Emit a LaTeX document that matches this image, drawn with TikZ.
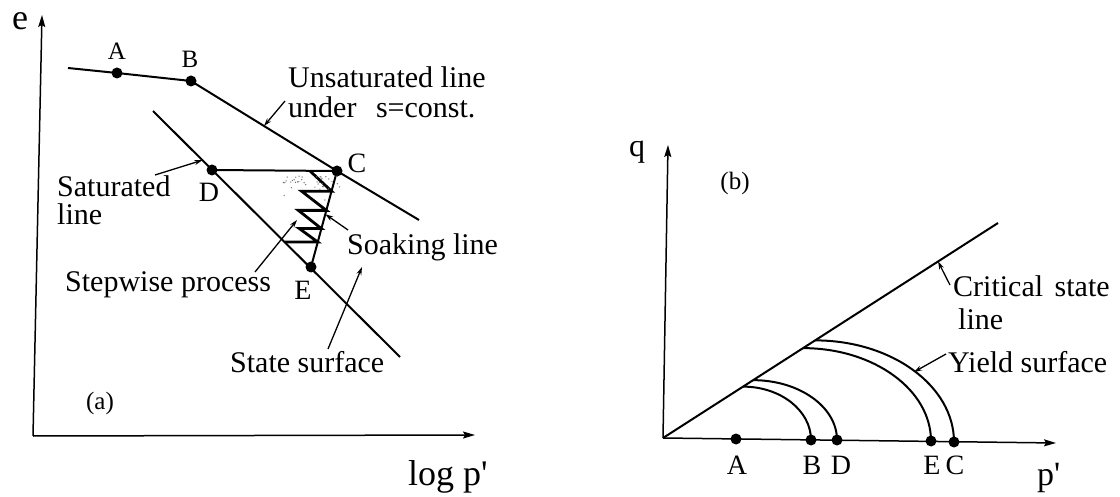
\documentclass[tikz,border=0pt]{standalone}
\usepackage{fontspec}
\setmainfont{Liberation Serif}
\usetikzlibrary{arrows.meta,calc}

\begin{document}
\begin{tikzpicture}[x=1pt, y=-1pt,
  axis/.style={line width=1.5pt, -{Stealth[length=12pt,width=7pt,inset=2pt]}},
  curve/.style={line width=2pt},
  zig/.style={line width=2.8pt, line join=miter},
  ptr/.style={line width=1.3pt, -{Stealth[length=8pt,width=5pt]}},
  dot/.style={circle, fill, inner sep=0pt, minimum size=11pt},
  ptlbl/.style={font=\fontsize{25}{28}\selectfont, inner sep=0pt},
  bigptlbl/.style={font=\fontsize{28}{31}\selectfont, inner sep=0pt},
  txt/.style={font=\fontsize{30}{33}\selectfont, anchor=base west, inner sep=0pt},
  axlbl/.style={font=\fontsize{36}{40}\selectfont, inner sep=0pt, anchor=base west},
  tag/.style={font=\fontsize{25}{28}\selectfont, inner sep=0pt}]
  \useasboundingbox (0,0) rectangle (1120,497);

  % (a) e -- log p'
  \coordinate (Oa) at (33,436);
  \draw[axis] (Oa) -- (42,15);
  \draw[axis] (Oa) -- (475,435);
  \node[axlbl] (elbl) at (12,30) {e};
  \node[axlbl] (plbl) at (408,485) {log p\textquotesingle};

  % Unsaturated line
  \coordinate (u0) at (68,68);
  \coordinate (u1) at (419,220);
  \node[dot] (A) at (117,73) {};
  \node[dot] (B) at (191,81) {};
  \node[dot] (C) at (337,171) {};
  \draw[curve] (u0) -- (A.center) -- (B.center) -- (C.center) -- (u1);

  % Saturated line
  \coordinate (s0) at (153,111);
  \coordinate (s1) at (400,357);
  \node[dot] (D) at (212,170) {};
  \node[dot] (E) at (311,267) {};
  \draw[curve] (s0) -- (s1);

  % D--C and soaking line C--E
  \draw[curve] (D.center) -- (C.center) -- (E.center);

  % Stepwise process
  \draw[zig] (310,171) -- ($(C)!0.21!(E)$) -- ++(-30,0)
    -- ($(C)!0.41!(E)$) -- ++(-28,0)
    -- ($(C)!0.6!(E)$) -- ++(-22,0)
    -- ($(C)!0.74!(E)$) -- ++(-33,0);

  % stipple
  \pgfmathsetseed{11}
  \foreach \i in {1,...,40} {
    \pgfmathsetmacro{\sx}{283+62*rnd}
    \pgfmathsetmacro{\sy}{176+32*rnd*rnd}
    \fill[black!55] (\sx,\sy) circle (0.7pt);
  }

  % point labels
  \node[ptlbl] (Albl) at (117,51) {A};
  \node[ptlbl] (Blbl) at (190,59) {B};
  \node[bigptlbl] (Clbl) at (357,163) {C};
  \node[bigptlbl] (Dlbl) at (209,192) {D};
  \node[bigptlbl] (Elbl) at (303,290) {E};

  % texts and pointers
  \node[txt] (unsat) at (288,88) {Unsaturated line};
  \node[txt] (under) at (288,118) {under\hspace{12pt} s=const.};
  \coordinate (unsatFrom) at (285,101);
  \draw[ptr] (unsatFrom) -- ($(B)!0.5!(C)$);

  \node[txt] (sat) at (57,197) {Saturated};
  \node[txt] (satline) at (57,225) {line};
  \coordinate (satFrom) at (155,175);
  \draw[ptr] (satFrom) -- ($(s0)!0.2!(s1)$);

  \node[txt] (soak) at (347,255) {Soaking line};
  \coordinate (soakFrom) at (348,230);
  \draw[ptr] (soakFrom) -- ($(C)!0.45!(E)$);

  \node[txt] (stepw) at (65,292) {Stepwise process};
  \coordinate (stepFrom) at (255,272);
  \coordinate (stepTo) at (297,220);
  \draw[ptr] (stepFrom) -- (stepTo);

  \node[txt] (state) at (230,372) {State surface};
  \coordinate (stateFrom) at (328,349);
  \coordinate (stateTo) at (362,267);
  \draw[ptr] (stateFrom) -- (stateTo);

  \node[tag] (taga) at (100,403) {(a)};

  % (b) q -- p'
  \coordinate (Ob) at (663,438);
  \draw[axis] (Ob) -- (668,145);
  \draw[axis] (Ob) -- (1056,443);
  \node[axlbl, font=\fontsize{32}{36}\selectfont] (qlbl) at (629,157) {q};
  \node[axlbl, font=\fontsize{34}{38}\selectfont] (pblbl) at (1037,485) {p\textquotesingle};
  \node[tag] (tagb) at (735,183) {(b)};

  % critical state line
  \coordinate (csl) at (998,223);
  \draw[curve] (Ob) -- (csl);

  % yield surfaces
  \coordinate (yB) at ($(Ob)!0.239!(csl)$);
  \coordinate (yD) at ($(Ob)!0.269!(csl)$);
  \coordinate (yE) at ($(Ob)!0.418!(csl)$);
  \coordinate (yC) at ($(Ob)!0.454!(csl)$);
  \node[dot] (Ab) at (736,439) {};
  \node[dot] (Bb) at (811,440) {};
  \node[dot] (Db) at (837,440) {};
  \node[dot] (Eb) at (931,441) {};
  \node[dot] (Cb) at (954,442) {};
  \foreach \s/\e in {yB/Bb, yD/Db, yE/Eb, yC/Cb}
    \draw[curve] let \p1=(\s), \p2=(\e.center) in
      (\p1) .. controls ({\x1+0.552*(\x2-\x1)},\y1) and (\x2,{\y2+0.552*(\y1-\y2)}) .. (\p2);

  \node[bigptlbl] (Ablb) at (737,465) {A};
  \node[bigptlbl] (Bblb) at (812,465) {B};
  \node[bigptlbl] (Dblb) at (841,465) {D};
  \node[bigptlbl] (Eblb) at (932,465) {E};
  \node[bigptlbl] (Cblb) at (955,465) {C};

  \node[txt] (crit) at (953,297) {Critical\hspace{4pt} state};
  \node[txt] (critline) at (958,330) {line};
  \coordinate (critFrom) at (950,285);
  \draw[ptr] (critFrom) -- ($(Ob)!0.821!(csl)$);

  \node[txt] (yield) at (948,372) {Yield surface};
  \coordinate (yieldFrom) at (946,354);
  \coordinate (yieldTo) at (914,372);
  \draw[ptr] (yieldFrom) -- (yieldTo);
\end{tikzpicture}
\end{document}
